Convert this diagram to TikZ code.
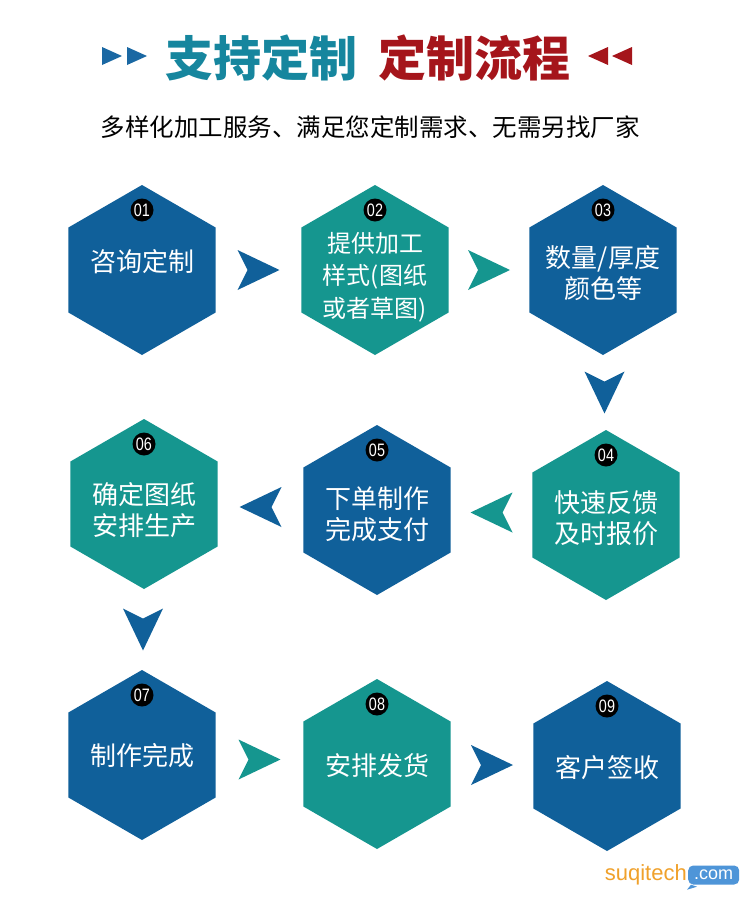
\documentclass[tikz,border=0pt]{standalone}
\usepackage{fontspec}
\setmainfont{Liberation Sans}
\newfontfamily\cjk{Noto Sans CJK SC}
\newfontfamily\numfont[FakeStretch=0.8]{Liberation Sans}
\usetikzlibrary{shapes.geometric,positioning}

\definecolor{hexblue}{HTML}{10609A}
\definecolor{hexteal}{HTML}{15968F}
\definecolor{titleteal}{HTML}{16869E}
\definecolor{titlered}{HTML}{A5151B}
\definecolor{triblue}{HTML}{1A68A3}
\definecolor{logoorange}{HTML}{F0A12B}
\definecolor{logoblue}{HTML}{4E95D8}

\begin{document}
\begin{tikzpicture}
  [x=1pt,y=-1pt,
   hexa/.style={regular polygon, regular polygon sides=6, rotate=30, minimum size=170pt, inner sep=0pt},
   steptext/.style={text=white, font=\cjk\fontsize{26}{31}\selectfont, align=center, inner sep=0pt},
   numdot/.style={circle, fill=black, text=white, inner sep=0pt, minimum size=23pt, font=\numfont\fontsize{18}{18}\selectfont},
   titletext/.style={font=\cjk\bfseries\fontsize{48}{48}\selectfont, inner sep=0pt},
   chev/.pic={\fill[#1] (-21,-20) -- (21,0) -- (-21,20) -- (-11,0) -- cycle;}]
  \useasboundingbox[fill=white] (0,0) rectangle (750,900);

  % title
  \node[titletext, text=titleteal] (t1) at (261,58) {支持定制};
  \node[titletext, text=titlered, right=21pt of t1] (t2) {定制流程};
  \fill[triblue] (102,47) -- (122,56) -- (102,65) -- cycle;
  \fill[triblue] (127,47) -- (147,56) -- (127,65) -- cycle;
  \fill[titlered] (608,47) -- (588,56) -- (608,65) -- cycle;
  \fill[titlered] (632,47) -- (612,56) -- (632,65) -- cycle;
  \node[font=\cjk\fontsize{24.5}{24.5}\selectfont] (sub) at (370,127) {多样化加工服务、满足您定制需求、无需另找厂家};

  % steps
  \node[hexa, fill=hexblue] (h1) at (142,270) {};
  \node[hexa, fill=hexteal] (h2) at (375,270) {};
  \node[hexa, fill=hexblue] (h3) at (603,270) {};
  \node[hexa, fill=hexteal] (h4) at (606,515) {};
  \node[hexa, fill=hexblue] (h5) at (377,510) {};
  \node[hexa, fill=hexteal] (h6) at (144,504) {};
  \node[hexa, fill=hexblue] (h7) at (142,755) {};
  \node[hexa, fill=hexteal] (h8) at (377,764) {};
  \node[hexa, fill=hexblue] (h9) at (607,766) {};

  \node[steptext] at ([yshift=8pt]h1) {咨询定制};
  \node[steptext, font=\cjk\fontsize{24}{32.5}\selectfont] at ([yshift=-7pt]h2) {提供加工\\样式(图纸\\或者草图)};
  \node[steptext] at ([yshift=-3pt]h3) {数量/厚度\\颜色等};
  \node[steptext] at ([yshift=-3pt]h4) {快速反馈\\及时报价};
  \node[steptext] at ([yshift=-4pt]h5) {下单制作\\完成支付};
  \node[steptext] at ([yshift=-6pt]h6) {确定图纸\\安排生产};
  \node[steptext] at ([yshift=-1pt]h7) {制作完成};
  \node[steptext] at ([yshift=-2pt]h8) {安排发货};
  \node[steptext] at ([yshift=-2pt]h9) {客户签收};

  \foreach \n/\t in {h1/01, h2/02, h3/03, h4/04, h5/05, h6/06, h7/07, h8/08, h9/09}
    \node[numdot] at ([yshift=60pt]\n) {\t};

  \foreach \from/\to/\ang/\col in {h1/h2/0/hexblue, h2/h3/0/hexteal, h3/h4/-90/hexblue, h4/h5/180/hexteal,
      h5/h6/180/hexblue, h6/h7/-90/hexblue, h7/h8/0/hexteal, h8/h9/0/hexblue}
    \path (\from) -- pic[pos=.5, rotate=\ang]{chev=\col} (\to);

  % logo
  \node[font=\fontsize{22}{22}\selectfont, text=logoorange, inner sep=0pt, anchor=east] (logo) at (687,875) {suqitech};
  \node[fill=logoblue, rounded corners=5pt, text=white, font=\fontsize{18}{18}\selectfont, inner sep=1pt, minimum width=51pt, minimum height=19pt, right=1pt of logo] (com) {.com};
  \fill[logoblue] ([xshift=3pt]com.south west) -- ++(-4,5) -- ++(10,-3) -- cycle;
\end{tikzpicture}
\end{document}
